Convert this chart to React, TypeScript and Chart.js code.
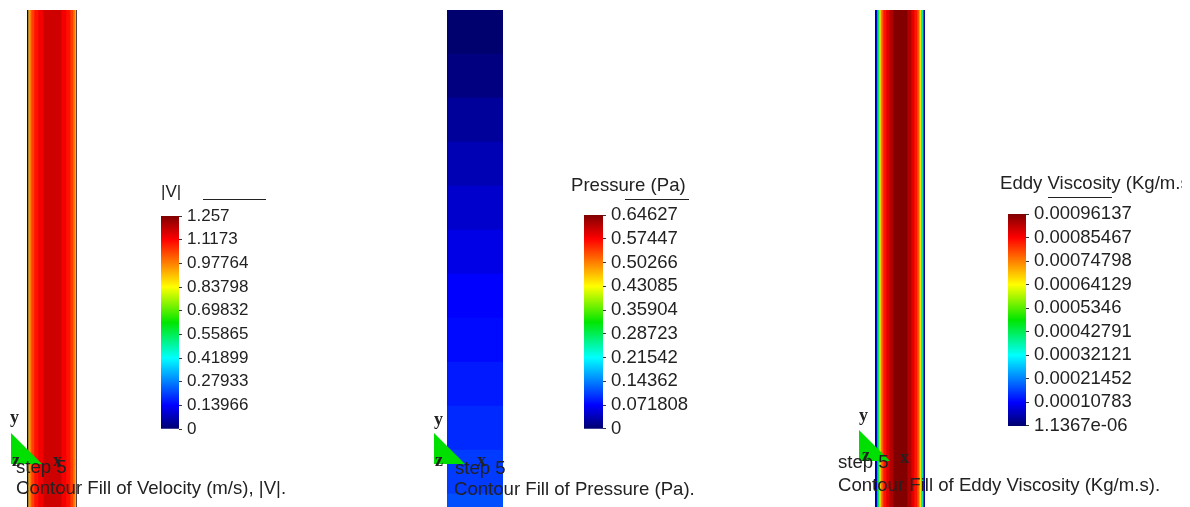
import React, { useEffect, useRef } from 'react';
import { Chart, registerables } from 'chart.js';

Chart.register(...registerables);
Chart.defaults.font.family = '"Liberation Sans", Arial, sans-serif';

// ---------------- data ----------------
// radial band edges across the pipe (mm) and |V| per band (m/s)
const velocityBandEdges = [-25, -24, -23, -21, -18, -14, -9, 9, 14, 18, 21, 23, 24, 25];
const velocityBandValues = [0, 0.9, 0.98, 1.05, 1.1, 1.13, 1.17, 1.13, 1.1, 1.05, 0.98, 0.9, 0];
const velocityTickLabels = ['0', '0.13966', '0.27933', '0.41899', '0.55865', '0.69832', '0.83798', '0.97764', '1.1173', '1.257'];
const velocityTickValues = [0, 0.13966, 0.27933, 0.41899, 0.55865, 0.69832, 0.83798, 0.97764, 1.1173, 1.257];

// axial bands (top to bottom) and pressure per band (Pa)
const pressureBandLabels = ['b1', 'b2', 'b3', 'b4', 'b5', 'b6', 'b7', 'b8', 'b9', 'b10', 'b11', 'b12', 'b13'];
const pressureBandValues = [0.0, 0.009, 0.022, 0.035, 0.047, 0.06, 0.072, 0.077, 0.086, 0.095, 0.105, 0.116, 0.126];
const pressureTickLabels = ['0', '0.071808', '0.14362', '0.21542', '0.28723', '0.35904', '0.43085', '0.50266', '0.57447', '0.64627'];
const pressureTickValues = [0, 0.071808, 0.14362, 0.21542, 0.28723, 0.35904, 0.43085, 0.50266, 0.57447, 0.64627];

// radial band edges (mm) and eddy viscosity per band (Kg/m.s)
const eddyBandEdges = [-25, -24, -23, -22, -21, -20, -19, -17, -14, -11, -7, 7, 11, 14, 17, 19, 20, 21, 22, 23, 24, 25];
const eddyBandValues = [0.00001, 0.0001, 0.0003, 0.00047, 0.00062, 0.0007, 0.00078, 0.00084, 0.00088, 0.00092, 0.00096, 0.00092, 0.00088, 0.00084, 0.00078, 0.0007, 0.00062, 0.00047, 0.0003, 0.0001, 0.00001];
const eddyTickLabels = ['1.1367e-06', '0.00010783', '0.00021452', '0.00032121', '0.00042791', '0.0005346', '0.00064129', '0.00074798', '0.00085467', '0.00096137'];
const eddyTickValues = [1.1367e-6, 0.00010783, 0.00021452, 0.00032121, 0.00042791, 0.0005346, 0.00064129, 0.00074798, 0.00085467, 0.00096137];

const PIPE_RADIUS = 25;

// ---------------- colour map (style) ----------------
const COLOR_STOPS: [number, number[]][] = [
  [0, [0, 0, 110]],
  [0.111, [0, 0, 255]],
  [0.333, [0, 255, 255]],
  [0.5, [0, 230, 0]],
  [0.667, [255, 255, 0]],
  [0.889, [255, 0, 0]],
  [1, [128, 0, 0]],
];

function colorAt(t: number): string {
  const x = Math.max(0, Math.min(1, t));
  for (let i = 1; i < COLOR_STOPS.length; i++) {
    const [t1, c1] = COLOR_STOPS[i];
    const [t0, c0] = COLOR_STOPS[i - 1];
    if (x <= t1) {
      const f = (x - t0) / (t1 - t0);
      const c = c0.map((v, k) => Math.round(v + (c1[k] - v) * f));
      return `rgb(${c[0]},${c[1]},${c[2]})`;
    }
  }
  const c = COLOR_STOPS[COLOR_STOPS.length - 1][1];
  return `rgb(${c[0]},${c[1]},${c[2]})`;
}

const TEXT = '#222';
const SANS = '"Liberation Sans", Arial, sans-serif';
const SERIF = '"Liberation Serif", "DejaVu Serif", serif';

// ---------------- chart canvas ----------------
function ChartCanvas(props: { left: number; top: number; width: number; height: number; make: () => any }) {
  const ref = useRef<HTMLCanvasElement | null>(null);
  useEffect(() => {
    if (!ref.current) return;
    const chart = new Chart(ref.current, props.make());
    return () => chart.destroy();
  }, []);
  return (
    <canvas
      ref={ref}
      width={props.width}
      height={props.height}
      style={{ position: 'absolute', left: props.left, top: props.top, width: props.width, height: props.height }}
    />
  );
}

const baseOptions = {
  responsive: false,
  animation: false,
  events: [],
  plugins: { legend: { display: false }, tooltip: { enabled: false }, title: { display: false } },
  layout: { padding: 0 },
};

function radialColumnConfig(edges: number[], values: number[], vmin: number, vmax: number) {
  return () => ({
    type: 'bar',
    data: {
      labels: ['pipe'],
      datasets: values.map((v, i) => ({
        data: [[edges[i], edges[i + 1]]],
        backgroundColor: colorAt((v - vmin) / (vmax - vmin)),
        borderWidth: 0,
        grouped: false,
        barPercentage: 1,
        categoryPercentage: 1,
      })),
    },
    options: {
      ...baseOptions,
      indexAxis: 'y',
      scales: {
        x: { type: 'linear', min: -PIPE_RADIUS, max: PIPE_RADIUS, display: false },
        y: { display: false },
      },
    },
  });
}

function axialColumnConfig(labels: string[], values: number[], vmin: number, vmax: number) {
  return () => ({
    type: 'bar',
    data: {
      labels,
      datasets: [
        {
          data: values.map(() => [-PIPE_RADIUS, PIPE_RADIUS]),
          backgroundColor: values.map((v) => colorAt((v - vmin) / (vmax - vmin))),
          borderWidth: 0,
          barPercentage: 1,
          categoryPercentage: 1,
        },
      ],
    },
    options: {
      ...baseOptions,
      indexAxis: 'y',
      scales: {
        x: { type: 'linear', min: -PIPE_RADIUS, max: PIPE_RADIUS, display: false },
        y: { display: false },
      },
    },
  });
}

function colorbarConfig(tickValues: number[], tickLabels: string[], fontSize: number, axisWidth: number, pad: number) {
  const vmin = tickValues[0];
  const vmax = tickValues[tickValues.length - 1];
  return () => ({
    type: 'bar',
    data: {
      labels: ['scale'],
      datasets: [
        {
          data: [[vmin, vmax]],
          backgroundColor: (ctx: any) => {
            const chart = ctx.chart;
            const a = chart.chartArea;
            if (!a) return 'rgb(0,0,110)';
            const g = chart.ctx.createLinearGradient(0, a.bottom, 0, a.top);
            COLOR_STOPS.forEach(([t, c]) => g.addColorStop(t, `rgb(${c[0]},${c[1]},${c[2]})`));
            return g;
          },
          borderWidth: 0,
          barPercentage: 1,
          categoryPercentage: 1,
        },
      ],
    },
    options: {
      ...baseOptions,
      layout: { padding: { top: pad, bottom: pad, left: 0, right: 0 } },
      scales: {
        x: { display: false },
        y: {
          type: 'linear',
          position: 'right',
          min: vmin,
          max: vmax,
          afterBuildTicks: (s: any) => {
            s.ticks = tickValues.map((v) => ({ value: v }));
          },
          afterFit: (s: any) => {
            s.width = axisWidth;
          },
          border: { display: false },
          grid: { drawOnChartArea: false, drawTicks: true, tickLength: 3, color: '#333', lineWidth: 1 },
          ticks: {
            autoSkip: false,
            padding: 5,
            color: TEXT,
            font: { size: fontSize, family: SANS },
            callback: (_v: any, i: number) => tickLabels[i],
          },
        },
      },
    },
  });
}

// ---------------- text helpers ----------------
function SansText(p: { x: number; baseline: number; size: number; text: string; clipRight?: number }) {
  const top = p.baseline - 0.8465 * p.size;
  const style: any = {
    position: 'absolute',
    left: p.x,
    top,
    fontFamily: SANS,
    fontSize: p.size,
    lineHeight: `${p.size}px`,
    color: TEXT,
    whiteSpace: 'nowrap',
  };
  if (p.clipRight !== undefined) {
    style.width = p.clipRight - p.x;
    style.overflow = 'hidden';
    style.height = p.size + 6;
  }
  return <div style={style}>{p.text}</div>;
}

function AxisLetter(p: { x: number; baseline: number; text: string }) {
  const size = 18;
  return (
    <div
      style={{
        position: 'absolute',
        left: p.x,
        top: p.baseline - 0.8 * size,
        fontFamily: SERIF,
        fontWeight: 'bold',
        fontSize: size,
        lineHeight: `${size}px`,
        color: TEXT,
      }}
    >
      {p.text}
    </div>
  );
}

function Underline(p: { x1: number; x2: number; y: number }) {
  return <div style={{ position: 'absolute', left: p.x1, top: p.y, width: p.x2 - p.x1, height: 1, background: '#222' }} />;
}

function Triad(p: { x: number; y: number; size: number; yLabel: [number, number]; zLabel: [number, number]; xLabel: [number, number] }) {
  return (
    <>
      <svg style={{ position: 'absolute', left: p.x, top: p.y, overflow: 'visible' }} width={p.size} height={p.size}>
        <polygon points={`0,0 0,${p.size} ${p.size},${p.size}`} fill="#00e000" />
      </svg>
      <AxisLetter x={p.yLabel[0]} baseline={p.yLabel[1]} text="y" />
      <AxisLetter x={p.zLabel[0]} baseline={p.zLabel[1]} text="z" />
      <AxisLetter x={p.xLabel[0]} baseline={p.xLabel[1]} text="x" />
    </>
  );
}

export default function App() {
  useEffect(() => {
    document.body.style.margin = '0';
  }, []);
  const vMin = velocityTickValues[0];
  const vMax = velocityTickValues[velocityTickValues.length - 1];
  const pMin = pressureTickValues[0];
  const pMax = pressureTickValues[pressureTickValues.length - 1];
  const eMin = eddyTickValues[0];
  const eMax = eddyTickValues[eddyTickValues.length - 1];
  return (
    <div style={{ position: 'fixed', left: 0, top: 0, width: 1190, height: 507, overflow: 'hidden', background: '#fff' }}>
      {/* Panel 1: velocity */}
      <ChartCanvas left={27} top={10} width={50} height={497} make={radialColumnConfig(velocityBandEdges, velocityBandValues, vMin, vMax)} />
      <ChartCanvas left={161} top={200} width={118} height={245} make={colorbarConfig(velocityTickValues, velocityTickLabels, 17, 100, 16)} />
      <SansText x={161} baseline={197} size={17} text="|V|" />
      <Underline x1={203} x2={266} y={199} />
      <Triad x={11} y={433} size={31} yLabel={[10, 422]} zLabel={[12, 465]} xLabel={[53, 465]} />
      <SansText x={16} baseline={474} size={18.6} text="step 5" />
      <SansText x={16} baseline={495} size={18.6} text="Contour Fill of Velocity (m/s), |V|." />

      {/* Panel 2: pressure */}
      <ChartCanvas left={447} top={10} width={56} height={572} make={axialColumnConfig(pressureBandLabels, pressureBandValues, pMin, pMax)} />
      <ChartCanvas left={584} top={199} width={129} height={246} make={colorbarConfig(pressureTickValues, pressureTickLabels, 18.5, 110, 16)} />
      <SansText x={571} baseline={192} size={18.6} text="Pressure (Pa)" />
      <Underline x1={625} x2={689} y={199} />
      <Triad x={434} y={433} size={31} yLabel={[434, 424]} zLabel={[435, 465]} xLabel={[477, 465]} />
      <SansText x={455} baseline={475} size={18.6} text="step 5" />
      <SansText x={454} baseline={496} size={18.6} text="Contour Fill of Pressure (Pa)." />

      {/* Panel 3: eddy viscosity */}
      <ChartCanvas left={875} top={10} width={50} height={497} make={radialColumnConfig(eddyBandEdges, eddyBandValues, eMin, eMax)} />
      <ChartCanvas left={1008} top={198} width={170} height={244} make={colorbarConfig(eddyTickValues, eddyTickLabels, 18.5, 152, 16)} />
      <SansText x={1000} baseline={190} size={18.6} text="Eddy Viscosity (Kg/m.s)" clipRight={1182} />
      <Underline x1={1048} x2={1112} y={197} />
      <Triad x={859} y={430} size={31} yLabel={[859, 420]} zLabel={[862, 460]} xLabel={[900, 462]} />
      <SansText x={838} baseline={469} size={18.6} text="step 5" />
      <SansText x={838} baseline={492} size={18.6} text="Contour Fill of Eddy Viscosity (Kg/m.s)." />
    </div>
  );
}
